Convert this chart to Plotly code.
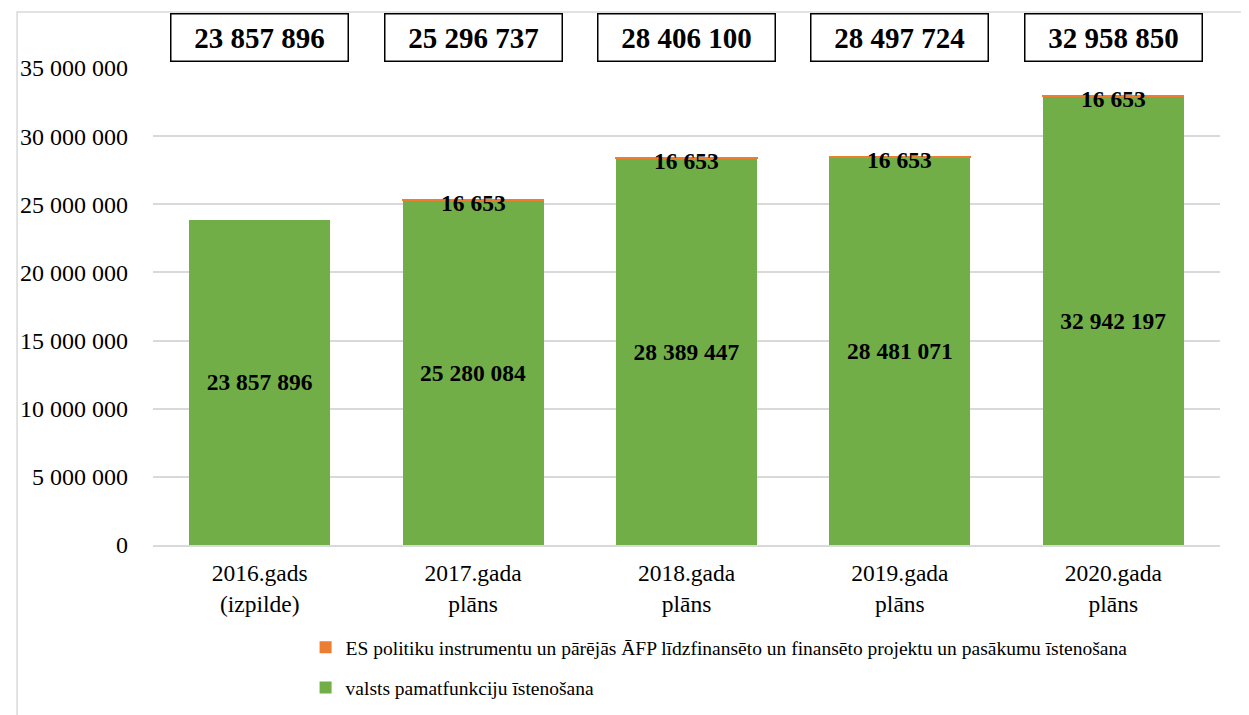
import plotly.graph_objects as go

categories = ["2016.gads<br>(izpilde)", "2017.gada<br>plāns", "2018.gada<br>plāns",
              "2019.gada<br>plāns", "2020.gada<br>plāns"]
valsts = [23857896, 25280084, 28389447, 28481071, 32942197]
es_proj = [0, 16653, 16653, 16653, 16653]
totals = [23857896, 25296737, 28406100, 28497724, 32958850]
ytick_vals = [0, 5000000, 10000000, 15000000, 20000000, 25000000, 30000000, 35000000]
ytick_text = ["0", "5 000 000", "10 000 000", "15 000 000", "20 000 000",
              "25 000 000", "30 000 000", "35 000 000"]
name_green = "valsts pamatfunkciju īstenošana"
name_orange = "ES politiku instrumentu un pārējās ĀFP līdzfinansēto un finansēto projektu un pasākumu īstenošana"

def fmt(v):
    return f"{v:,}".replace(",", " ")

FONT = "Liberation Serif, Times New Roman, serif"
GREEN = "#72AE48"
ORANGE = "#ED7D31"

fig = go.Figure()
fig.add_trace(go.Bar(x=categories, y=valsts, name=name_green, legendgroup="g", legendrank=2,
                     marker=dict(color=GREEN, line=dict(width=0)),
                     text=[f"<b>{fmt(v)}</b>" for v in valsts],
                     textposition="inside", insidetextanchor="middle",
                     textfont=dict(family=FONT, size=23.5, color="black"),
                     hoverinfo="skip"))
fig.add_trace(go.Bar(x=categories, y=es_proj, name=name_orange, legendgroup="o", legendrank=1,
                     marker=dict(color=ORANGE, line=dict(color=ORANGE, width=[0, 1.5, 1.5, 1.5, 1.5])),
                     hoverinfo="skip"))

annotations = []
for c, v, t in zip(categories, es_proj, totals):
    if v > 0:
        annotations.append(dict(x=c, y=t, xref="x", yref="y", text=f"<b>{fmt(v)}</b>",
                                showarrow=False, yanchor="middle", yshift=-3,
                                font=dict(family=FONT, size=23.5, color="black")))
    annotations.append(dict(x=c, y=1.063, xref="x", yref="paper", text=f"<b>{fmt(t)}</b>",
                            showarrow=False, yanchor="middle", xanchor="center",
                            width=168, height=38, borderpad=4,
                            bordercolor="black", borderwidth=1.5, bgcolor="white",
                            font=dict(family=FONT, size=29, color="black")))

fig.update_layout(
    width=1249, height=715,
    margin=dict(l=137, r=37, t=60, b=178),
    barmode="stack", bargap=0.34,
    plot_bgcolor="white", paper_bgcolor="white",
    font=dict(family=FONT, size=23, color="black"),
    showlegend=True,
    legend=dict(orientation="v", x=0.143, y=-0.174, xanchor="left", yanchor="top",
                traceorder="grouped", font=dict(family=FONT, size=19.5, color="black"),
                itemwidth=30, tracegroupgap=12),
    annotations=annotations,
    shapes=[dict(type="rect", xref="paper", yref="paper", x0=-0.1274, x1=1.2, y0=-0.5, y1=1.1174,
                 line=dict(color="#d9d9d9", width=1.5), fillcolor="rgba(0,0,0,0)", layer="below")],
)
fig.update_xaxes(showgrid=False, showline=True, linecolor="#d9d9d9", linewidth=1.5,
                 tickfont=dict(family=FONT, size=23.5), ticks="", ticklabelstandoff=6)
fig.update_yaxes(range=[0, 35000000], tickvals=ytick_vals, ticktext=ytick_text,
                 showgrid=True, gridcolor="#d9d9d9", gridwidth=1.5, zeroline=False,
                 showline=False, ticklabelstandoff=24, tickfont=dict(family=FONT, size=24))

fig.write_html("out.html")
